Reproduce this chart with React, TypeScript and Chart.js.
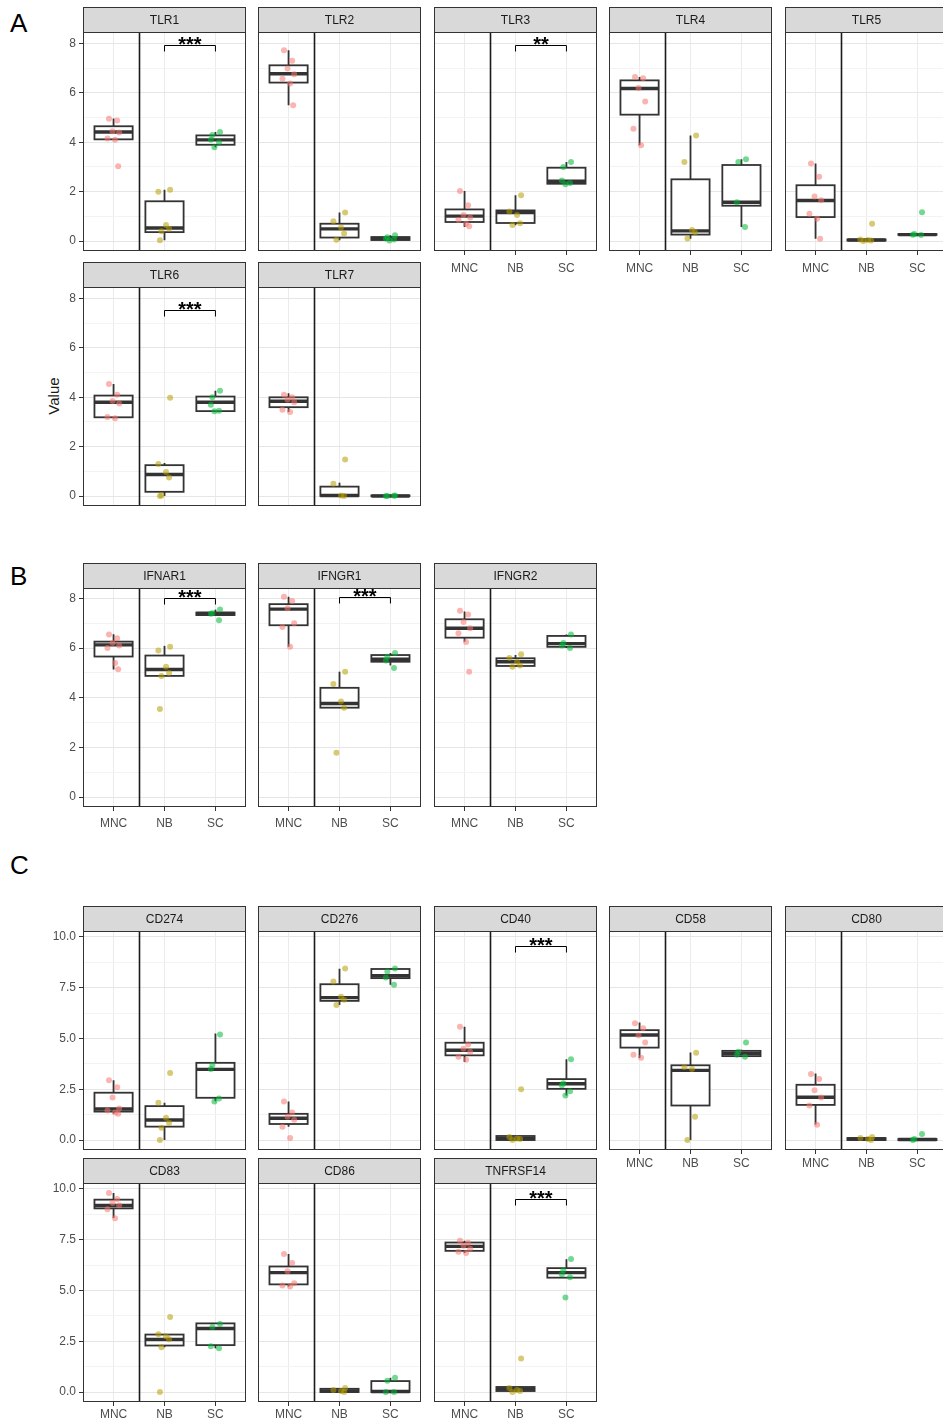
import React, { useEffect, useRef } from 'react';
import { Chart, registerables } from 'chart.js';

Chart.register(...registerables);
Chart.defaults.font.family = "'Liberation Sans', Arial, Helvetica, sans-serif";

// ---------- categories & styling ----------
const GROUPS = ['MNC', 'NB', 'SC'];
const GROUP_COLORS = ['rgba(248,118,109,0.55)', 'rgba(183,159,0,0.55)', 'rgba(0,186,56,0.55)'];
const JITTER = [-0.09, 0.07, -0.02, 0.11, -0.12, 0.03, 0.09, -0.06];

// ---------- tick labels ----------
const TICKS_AB = [0, 2, 4, 6, 8];
const MINOR_AB = [1, 3, 5, 7];
const TICKS_C = [0, 2.5, 5, 7.5, 10];
const MINOR_C = [1.25, 3.75, 6.25, 8.75];

// ---------- data: box stats [lower whisker, Q1, median, Q3, upper whisker] per group (MNC, NB, SC) ----------
const TLR1_BOX = [[4.1, 4.12, 4.42, 4.65, 4.96], [0.03, 0.36, 0.53, 1.61, 2.08], [3.8, 3.9, 4.1, 4.28, 4.42]];
const TLR1_PTS = [[4.95, 4.88, 4.45, 4.4, 4.15, 4.1, 3.03], [2.08, 2.0, 0.65, 0.5, 0.4, 0.03], [4.42, 4.3, 4.1, 4.0, 3.8]];
const TLR2_BOX = [[5.5, 6.42, 6.78, 7.12, 7.73], [0.03, 0.14, 0.49, 0.7, 1.16], [0.02, 0.04, 0.1, 0.16, 0.23]];
const TLR2_PTS = [[7.73, 7.3, 6.99, 6.76, 6.58, 6.38, 5.5], [1.16, 0.8, 0.55, 0.3, 0.05], [0.23, 0.15, 0.1, 0.06, 0.02]];
const TLR3_BOX = [[0.57, 0.77, 1.01, 1.28, 2.03], [0.64, 0.73, 1.15, 1.24, 1.85], [2.3, 2.32, 2.42, 2.97, 3.2]];
const TLR3_PTS = [[2.03, 1.45, 1.05, 0.95, 0.85, 0.7, 0.6], [1.85, 1.2, 1.05, 0.72, 0.65], [3.2, 3.0, 2.45, 2.35, 2.3]];
const TLR4_BOX = [[3.88, 5.12, 6.18, 6.51, 6.65], [0.09, 0.26, 0.41, 2.5, 4.28], [0.57, 1.43, 1.57, 3.08, 3.31]];
const TLR4_PTS = [[6.65, 6.6, 6.2, 5.65, 4.55, 3.88], [4.28, 3.2, 0.45, 0.35, 0.1], [3.31, 3.2, 1.57, 0.57]];
const TLR5_BOX = [[0.09, 0.97, 1.64, 2.26, 3.14], [0.0, 0.02, 0.04, 0.06, 0.1], [0.24, 0.25, 0.26, 0.28, 0.3]];
const TLR5_PTS = [[3.14, 2.6, 1.8, 1.65, 1.1, 0.9, 0.09], [0.7, 0.06, 0.04, 0.02, 0.0], [1.17, 0.28, 0.25, 0.24]];
const TLR6_BOX = [[3.15, 3.19, 3.8, 4.07, 4.54], [0.0, 0.17, 0.87, 1.25, 1.34], [3.43, 3.44, 3.8, 4.03, 4.27]];
const TLR6_PTS = [[4.54, 4.1, 3.85, 3.75, 3.2, 3.15], [3.98, 1.3, 0.97, 0.75, 0.02, 0.0], [4.27, 4.0, 3.7, 3.45, 3.43]];
const TLR7_BOX = [[3.4, 3.6, 3.84, 4.0, 4.16], [0.0, 0.0, 0.02, 0.38, 0.54], [0.0, 0.0, 0.0, 0.02, 0.02]];
const TLR7_PTS = [[4.1, 4.0, 3.9, 3.8, 3.5, 3.4], [1.48, 0.5, 0.02, 0.0], [0.02, 0.0, 0.0, 0.01]];

const IFNAR1_BOX = [[5.14, 5.66, 6.13, 6.26, 6.56], [4.88, 4.88, 5.14, 5.7, 6.09], [7.33, 7.33, 7.39, 7.43, 7.55]];
const IFNAR1_PTS = [[6.55, 6.4, 6.2, 6.1, 6.0, 5.4, 5.15], [6.05, 5.9, 5.25, 5.0, 4.88, 3.55], [7.55, 7.4, 7.38, 7.12]];
const IFNGR1_BOX = [[6.05, 6.92, 7.57, 7.77, 8.07], [3.6, 3.6, 3.77, 4.4, 5.05], [5.3, 5.45, 5.55, 5.72, 5.8]];
const IFNGR1_PTS = [[8.07, 7.9, 7.6, 7.0, 6.85, 6.05], [5.05, 4.55, 3.85, 3.6, 1.78], [5.8, 5.65, 5.5, 5.2]];
const IFNGR2_BOX = [[6.26, 6.42, 6.8, 7.16, 7.47], [5.25, 5.28, 5.45, 5.59, 5.72], [6.0, 6.05, 6.18, 6.49, 6.55]];
const IFNGR2_PTS = [[7.5, 7.35, 7.05, 6.8, 6.6, 6.25, 5.05], [5.75, 5.6, 5.45, 5.3, 5.25], [6.55, 6.2, 6.1, 6.0]];

const CD274_BOX = [[1.3, 1.4, 1.53, 2.33, 2.94], [0.0, 0.66, 0.99, 1.67, 1.83], [1.91, 2.08, 3.48, 3.8, 5.25]];
const CD274_PTS = [[2.94, 2.6, 2.1, 1.55, 1.45, 1.35, 1.3], [3.3, 1.83, 1.1, 0.85, 0.6, 0.0], [5.2, 3.7, 3.5, 2.05, 1.9]];
const CD276_BOX = [[0.66, 0.79, 1.07, 1.29, 1.9], [6.65, 6.85, 7.01, 7.67, 8.43], [7.65, 7.97, 8.09, 8.42, 8.45]];
const CD276_PTS = [[1.9, 1.35, 1.15, 1.0, 0.65, 0.1], [8.45, 7.8, 7.05, 6.9, 6.65], [8.45, 8.3, 8.0, 7.65]];
const CD40_BOX = [[3.84, 4.17, 4.42, 4.79, 5.58], [0.0, 0.0, 0.08, 0.2, 0.2], [2.19, 2.52, 2.77, 3.0, 3.98]];
const CD40_PTS = [[5.58, 4.7, 4.5, 4.35, 4.1, 3.95], [2.5, 0.15, 0.08, 0.05, 0.0], [3.98, 2.8, 2.7, 2.4, 2.19]];
const CD58_BOX = [[4.04, 4.55, 5.17, 5.41, 5.78], [0.0, 1.7, 3.43, 3.68, 4.31], [4.1, 4.13, 4.26, 4.39, 4.45]];
const CD58_PTS = [[5.75, 5.5, 5.15, 4.8, 4.2, 4.05], [4.3, 3.6, 3.5, 1.15, 0.0], [4.8, 4.35, 4.2, 4.1]];
const CD80_BOX = [[0.76, 1.73, 2.11, 2.72, 3.27], [0.0, 0.0, 0.05, 0.1, 0.15], [0.0, 0.0, 0.03, 0.05, 0.05]];
const CD80_PTS = [[3.25, 3.0, 2.45, 2.1, 1.7, 0.75], [0.15, 0.1, 0.05, 0.0], [0.3, 0.05, 0.0]];
const CD83_BOX = [[8.57, 9.04, 9.18, 9.47, 9.8], [2.2, 2.29, 2.59, 2.83, 2.85], [2.15, 2.31, 3.13, 3.38, 3.38]];
const CD83_PTS = [[9.8, 9.5, 9.3, 9.2, 9.0, 8.55], [3.7, 2.85, 2.75, 2.6, 2.2, 0.0], [3.35, 3.2, 2.25, 2.15]];
const CD86_BOX = [[5.2, 5.3, 5.88, 6.18, 6.8], [0.0, 0.0, 0.05, 0.16, 0.2], [0.0, 0.0, 0.03, 0.54, 0.7]];
const CD86_PTS = [[6.8, 6.35, 5.95, 5.35, 5.25, 5.2], [0.2, 0.1, 0.05, 0.0], [0.7, 0.55, 0.0, 0.0]];
const TNFRSF14_BOX = [[6.85, 6.95, 7.17, 7.36, 7.45], [0.0, 0.05, 0.15, 0.25, 0.25], [5.63, 5.63, 5.88, 6.1, 6.54]];
const TNFRSF14_PTS = [[7.45, 7.35, 7.2, 7.05, 6.9, 6.85], [1.65, 0.2, 0.1, 0.05, 0.0], [6.55, 6.0, 5.8, 5.65, 4.65]];

// significance brackets (NB vs SC)
const SIG_GENES = ['TLR1', 'TLR3', 'TLR6', 'IFNAR1', 'IFNGR1', 'CD40', 'TNFRSF14'];
const SIG_LABELS = ['***', '**', '***', '***', '***', '***', '***'];
const SIG_VALUES = [7.93, 7.93, 7.52, 8.0, 8.05, 9.57, 9.5];

// ---------- layout ----------
const COL_X = [83, 258, 434, 609, 785];
const PLOT_W = 165;
const PLOT_H = 219;
const STRIP_H = 25;
const AXIS_W = 44;
const AXIS_H = 30;

type Scale = { min: number; max: number; major: number[]; minor: number[]; fmt: (v: number) => string };
const SCALE_A: Scale = { min: -0.405, max: 8.47, major: TICKS_AB, minor: MINOR_AB, fmt: (v) => String(v) };
const SCALE_B: Scale = { min: -0.4, max: 8.42, major: TICKS_AB, minor: MINOR_AB, fmt: (v) => String(v) };
const SCALE_C: Scale = { min: -0.49, max: 10.29, major: TICKS_C, minor: MINOR_C, fmt: (v) => v.toFixed(1) };

type FacetSpec = {
  name: string; box: number[][]; pts: number[][];
  col: number; top: number; scale: Scale; showY: boolean; showX: boolean; xPad: number;
};

const FACETS: FacetSpec[] = [
  { name: 'TLR1', box: TLR1_BOX, pts: TLR1_PTS, col: 0, top: 7, scale: SCALE_A, showY: true, showX: false, xPad: 6 },
  { name: 'TLR2', box: TLR2_BOX, pts: TLR2_PTS, col: 1, top: 7, scale: SCALE_A, showY: false, showX: false, xPad: 6 },
  { name: 'TLR3', box: TLR3_BOX, pts: TLR3_PTS, col: 2, top: 7, scale: SCALE_A, showY: false, showX: true, xPad: 6 },
  { name: 'TLR4', box: TLR4_BOX, pts: TLR4_PTS, col: 3, top: 7, scale: SCALE_A, showY: false, showX: true, xPad: 6 },
  { name: 'TLR5', box: TLR5_BOX, pts: TLR5_PTS, col: 4, top: 7, scale: SCALE_A, showY: false, showX: true, xPad: 6 },
  { name: 'TLR6', box: TLR6_BOX, pts: TLR6_PTS, col: 0, top: 262, scale: SCALE_A, showY: true, showX: false, xPad: 6 },
  { name: 'TLR7', box: TLR7_BOX, pts: TLR7_PTS, col: 1, top: 262, scale: SCALE_A, showY: false, showX: false, xPad: 6 },
  { name: 'IFNAR1', box: IFNAR1_BOX, pts: IFNAR1_PTS, col: 0, top: 563, scale: SCALE_B, showY: true, showX: true, xPad: 5 },
  { name: 'IFNGR1', box: IFNGR1_BOX, pts: IFNGR1_PTS, col: 1, top: 563, scale: SCALE_B, showY: false, showX: true, xPad: 5 },
  { name: 'IFNGR2', box: IFNGR2_BOX, pts: IFNGR2_PTS, col: 2, top: 563, scale: SCALE_B, showY: false, showX: true, xPad: 5 },
  { name: 'CD274', box: CD274_BOX, pts: CD274_PTS, col: 0, top: 906, scale: SCALE_C, showY: true, showX: false, xPad: 2 },
  { name: 'CD276', box: CD276_BOX, pts: CD276_PTS, col: 1, top: 906, scale: SCALE_C, showY: false, showX: false, xPad: 2 },
  { name: 'CD40', box: CD40_BOX, pts: CD40_PTS, col: 2, top: 906, scale: SCALE_C, showY: false, showX: false, xPad: 2 },
  { name: 'CD58', box: CD58_BOX, pts: CD58_PTS, col: 3, top: 906, scale: SCALE_C, showY: false, showX: true, xPad: 2 },
  { name: 'CD80', box: CD80_BOX, pts: CD80_PTS, col: 4, top: 906, scale: SCALE_C, showY: false, showX: true, xPad: 2 },
  { name: 'CD83', box: CD83_BOX, pts: CD83_PTS, col: 0, top: 1158, scale: SCALE_C, showY: true, showX: true, xPad: 1 },
  { name: 'CD86', box: CD86_BOX, pts: CD86_PTS, col: 1, top: 1158, scale: SCALE_C, showY: false, showX: true, xPad: 1 },
  { name: 'TNFRSF14', box: TNFRSF14_BOX, pts: TNFRSF14_PTS, col: 2, top: 1158, scale: SCALE_C, showY: false, showX: true, xPad: 1 },
];

const FONT = "'Liberation Sans', Arial, Helvetica, sans-serif";

function makeConfig(f: FacetSpec): any {
  const sigIdx = SIG_GENES.indexOf(f.name);
  const isMajor = (v: number) => f.scale.major.some((m) => Math.abs(m - v) < 1e-6);

  const decor = {
    id: 'facetDecor',
    beforeDatasetsDraw(chart: any) {
      const { ctx, chartArea: a, scales } = chart;
      const x = scales.x;
      const y = scales.y;
      ctx.save();
      // vertical separator line at 1.5
      const vx = Math.round(x.getPixelForValue(1.5)) + 0.5;
      ctx.strokeStyle = '#1a1a1a';
      ctx.lineWidth = 1.6;
      ctx.beginPath();
      ctx.moveTo(vx, a.top);
      ctx.lineTo(vx, a.bottom);
      ctx.stroke();
      // boxplots
      f.box.forEach((b, gi) => {
        const cx = x.getPixelForValue(gi + 1);
        const hw = x.getPixelForValue(gi + 1 + 0.375) - cx;
        const [lo, q1, med, q3, hi] = b.map((v) => y.getPixelForValue(v));
        ctx.strokeStyle = '#333333';
        ctx.lineWidth = 1.8;
        ctx.beginPath();
        ctx.moveTo(cx, q3);
        ctx.lineTo(cx, hi);
        ctx.moveTo(cx, q1);
        ctx.lineTo(cx, lo);
        ctx.stroke();
        ctx.fillStyle = '#ffffff';
        ctx.fillRect(cx - hw, q3, hw * 2, q1 - q3);
        ctx.strokeRect(cx - hw, q3, hw * 2, q1 - q3);
        ctx.lineWidth = 3.4;
        ctx.beginPath();
        ctx.moveTo(cx - hw, med);
        ctx.lineTo(cx + hw, med);
        ctx.stroke();
      });
      ctx.restore();
    },
    afterDraw(chart: any) {
      const { ctx, chartArea: a, scales } = chart;
      const x = scales.x;
      const y = scales.y;
      ctx.save();
      // panel border
      ctx.strokeStyle = '#333333';
      ctx.lineWidth = 1;
      ctx.strokeRect(a.left + 0.5, a.top + 0.5, a.right - a.left - 1, a.bottom - a.top - 1);
      // strip
      ctx.fillStyle = '#d9d9d9';
      ctx.fillRect(a.left, a.top - STRIP_H, a.right - a.left, STRIP_H);
      ctx.strokeRect(a.left + 0.5, a.top - STRIP_H + 0.5, a.right - a.left - 1, STRIP_H);
      ctx.fillStyle = '#1a1a1a';
      ctx.font = `12px ${FONT}`;
      ctx.textAlign = 'center';
      ctx.textBaseline = 'middle';
      ctx.fillText(f.name, (a.left + a.right) / 2, a.top - STRIP_H / 2 + 1);
      // significance bracket
      if (sigIdx >= 0) {
        const x1 = x.getPixelForValue(2);
        const x2 = x.getPixelForValue(3);
        const yb = Math.round(y.getPixelForValue(SIG_VALUES[sigIdx])) + 0.5;
        ctx.strokeStyle = '#000000';
        ctx.lineWidth = 1;
        ctx.beginPath();
        ctx.moveTo(x1, yb + 6);
        ctx.lineTo(x1, yb);
        ctx.lineTo(x2, yb);
        ctx.lineTo(x2, yb + 6);
        ctx.stroke();
        ctx.fillStyle = '#000000';
        ctx.font = `bold 20px ${FONT}`;
        ctx.textBaseline = 'alphabetic';
        ctx.fillText(SIG_LABELS[sigIdx], (x1 + x2) / 2, yb + 5.5);
      }
      ctx.restore();
    },
  };

  return {
    type: 'scatter',
    data: {
      datasets: GROUPS.map((g, gi) => ({
        label: g,
        data: f.pts[gi].map((v, i) => ({ x: gi + 1 + JITTER[(i + gi * 3) % JITTER.length], y: v })),
        backgroundColor: GROUP_COLORS[gi],
        borderWidth: 0,
        pointRadius: 3,
        pointHoverRadius: 3,
      })),
    },
    options: {
      animation: false,
      responsive: false,
      events: [],
      layout: { padding: { top: STRIP_H, right: 1, left: 0, bottom: 0 } },
      plugins: { legend: { display: false }, tooltip: { enabled: false }, title: { display: false } },
      scales: {
        x: {
          type: 'linear',
          min: 0.4,
          max: 3.6,
          afterBuildTicks: (s: any) => { s.ticks = [1, 2, 3].map((v) => ({ value: v })); },
          afterFit: (s: any) => { s.height = AXIS_H; },
          border: { display: false },
          grid: { color: '#ebebeb', lineWidth: 1, tickLength: 4, tickColor: f.showX ? '#333333' : 'rgba(0,0,0,0)' },
          ticks: {
            display: f.showX, autoSkip: false, maxRotation: 0, padding: f.xPad, color: '#4d4d4d',
            font: { size: 12 },
            callback: (v: number) => GROUPS[Math.round(v) - 1],
          },
        },
        y: {
          type: 'linear',
          min: f.scale.min,
          max: f.scale.max,
          afterBuildTicks: (s: any) => {
            const all = [...f.scale.major, ...f.scale.minor].sort((p, q) => p - q);
            s.ticks = all.map((v) => ({ value: v }));
          },
          afterFit: (s: any) => { s.width = AXIS_W; },
          border: { display: false },
          grid: {
            color: (c: any) => (c.tick && isMajor(c.tick.value) ? '#e6e6e6' : '#f3f3f3'),
            lineWidth: 1,
            tickLength: 4,
            tickColor: (c: any) => (f.showY && c.tick && isMajor(c.tick.value) ? '#333333' : 'rgba(0,0,0,0)'),
          },
          ticks: {
            display: f.showY, autoSkip: false, padding: 3, color: '#4d4d4d',
            font: { size: 12 },
            callback: (v: number) => (isMajor(v) ? f.scale.fmt(v) : ''),
          },
        },
      },
    },
    plugins: [decor],
  };
}

function Facet({ spec }: { spec: FacetSpec }) {
  const ref = useRef<HTMLCanvasElement | null>(null);
  const W = AXIS_W + PLOT_W + 1;
  const H = STRIP_H + PLOT_H + AXIS_H;
  useEffect(() => {
    if (!ref.current) return;
    const chart = new Chart(ref.current, makeConfig(spec));
    return () => chart.destroy();
  }, [spec]);
  return (
    <canvas
      ref={ref}
      width={W}
      height={H}
      style={{ position: 'absolute', left: COL_X[spec.col] - AXIS_W, top: spec.top, width: W, height: H }}
    />
  );
}

const letterStyle = (top: number): React.CSSProperties => ({
  position: 'absolute', left: 10, top, fontFamily: FONT, fontSize: 26, lineHeight: '26px', color: '#000',
});

export default function App() {
  return (
    <div style={{ position: 'fixed', left: 0, top: 0, width: 943, height: 1419, overflow: 'hidden', background: '#ffffff' }}>
      <div style={letterStyle(10)}>A</div>
      <div style={letterStyle(563)}>B</div>
      <div style={letterStyle(852)}>C</div>
      <div
        style={{
          position: 'absolute', left: 53, top: 396, transform: 'translate(-50%, -50%) rotate(-90deg)',
          fontFamily: FONT, fontSize: 15, color: '#1a1a1a', whiteSpace: 'nowrap',
        }}
      >
        Value
      </div>
      {FACETS.map((f) => (
        <Facet key={f.name} spec={f} />
      ))}
    </div>
  );
}
